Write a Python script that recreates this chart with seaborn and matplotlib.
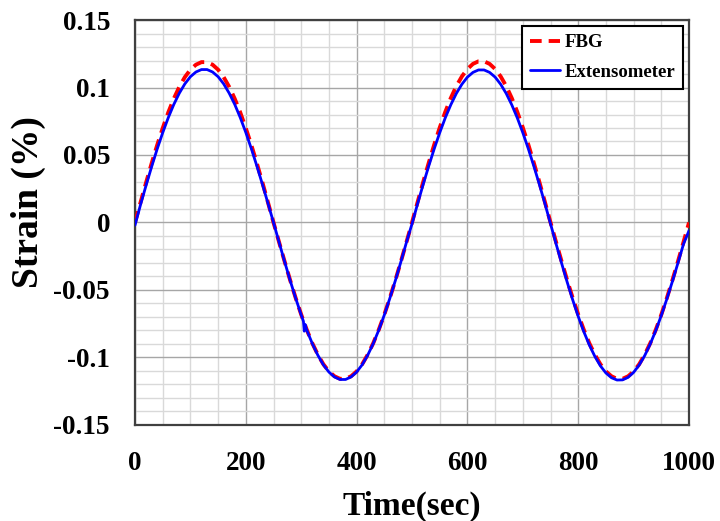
import numpy as np
import pandas as pd
import matplotlib
matplotlib.use("Agg")
import matplotlib.pyplot as plt
import seaborn as sns
from matplotlib.ticker import MultipleLocator

# ---- data (time in sec, strain in %) ----
fbg_time = list(range(0, 1001, 10))
fbg_strain = [
    0.0000, 0.0149, 0.0296, 0.0438, 0.0573, 0.0699, 0.0815, 0.0917, 0.1005, 0.1077,
    0.1132, 0.1169, 0.1188, 0.1188, 0.1169, 0.1132, 0.1077, 0.1005, 0.0917, 0.0815,
    0.0699, 0.0573, 0.0438, 0.0296, 0.0149, 0.0000, -0.0145, -0.0288, -0.0427, -0.0559,
    -0.0682, -0.0794, -0.0894, -0.0979, -0.1050, -0.1103, -0.1139, -0.1158, -0.1158, -0.1139,
    -0.1103, -0.1050, -0.0979, -0.0894, -0.0794, -0.0682, -0.0559, -0.0427, -0.0288, -0.0145,
    0.0000, 0.0150, 0.0298, 0.0440, 0.0576, 0.0703, 0.0819, 0.0922, 0.1010, 0.1082,
    0.1137, 0.1175, 0.1194, 0.1194, 0.1175, 0.1137, 0.1082, 0.1010, 0.0922, 0.0819,
    0.0703, 0.0576, 0.0440, 0.0298, 0.0150, 0.0000, -0.0145, -0.0288, -0.0427, -0.0559,
    -0.0682, -0.0794, -0.0894, -0.0979, -0.1050, -0.1103, -0.1139, -0.1158, -0.1158, -0.1139,
    -0.1103, -0.1050, -0.0979, -0.0894, -0.0794, -0.0682, -0.0559, -0.0427, -0.0288, -0.0145,
    0.0000]

ext_time = [0, 10, 20, 30, 40, 50, 60, 70, 80, 90, 100, 110, 120, 130, 140, 150, 160,
            170, 180, 190, 200, 210, 220, 230, 240, 250, 260, 270, 280, 290, 300, 304,
            305.5, 307, 310, 320, 330, 340, 350, 360, 370, 380, 390, 400, 410, 420, 430,
            440, 450, 460, 470, 480, 490, 500, 510, 520, 530, 540, 550, 560, 570, 580,
            590, 600, 610, 620, 630, 640, 650, 660, 670, 680, 690, 700, 710, 720, 730,
            740, 750, 760, 770, 780, 790, 800, 810, 820, 830, 840, 850, 860, 870, 880,
            890, 900, 910, 920, 930, 940, 950, 960, 970, 980, 990, 1000]
ext_strain = [
    -0.0020, 0.0132, 0.0275, 0.0413, 0.0544, 0.0665, 0.0776, 0.0874, 0.0958, 0.1027,
    0.1080, 0.1115, 0.1133, 0.1133, 0.1115, 0.1080, 0.1027, 0.0958, 0.0875, 0.0777,
    0.0667, 0.0547, 0.0418, 0.0282, 0.0142, 0.0000, -0.0146, -0.0290, -0.0429, -0.0561,
    -0.0685, -0.0732, -0.0805, -0.0755, -0.0797, -0.0897, -0.0983, -0.1054, -0.1108, -0.1144,
    -0.1163, -0.1163, -0.1144, -0.1108, -0.1054, -0.0983, -0.0897, -0.0797, -0.0685, -0.0561,
    -0.0429, -0.0290, -0.0146, -0.0010, 0.0138, 0.0280, 0.0416, 0.0545, 0.0665, 0.0775,
    0.0872, 0.0956, 0.1024, 0.1077, 0.1112, 0.1130, 0.1130, 0.1112, 0.1077, 0.1024,
    0.0956, 0.0872, 0.0775, 0.0665, 0.0545, 0.0416, 0.0280, 0.0138, -0.0010, -0.0158,
    -0.0302, -0.0441, -0.0573, -0.0696, -0.0808, -0.0907, -0.0992, -0.1062, -0.1115, -0.1150,
    -0.1167, -0.1166, -0.1147, -0.1110, -0.1056, -0.0986, -0.0900, -0.0800, -0.0688, -0.0566,
    -0.0436, -0.0300, -0.0160, -0.0060]

x_ticks = [0, 200, 400, 600, 800, 1000]
y_ticks = [-0.15, -0.1, -0.05, 0, 0.05, 0.1, 0.15]
y_tick_labels = ["-0.15", "-0.1", "-0.05", "0", "0.05", "0.1", "0.15"]

fbg_df = pd.DataFrame({"Time": fbg_time, "Strain": fbg_strain})
ext_df = pd.DataFrame({"Time": ext_time, "Strain": ext_strain})

sns.set_style("white")
plt.rcParams["font.family"] = ["Liberation Serif", "DejaVu Serif"]
plt.rcParams["font.weight"] = "bold"
plt.rcParams["text.color"] = "black"
plt.rcParams["axes.labelcolor"] = "black"
plt.rcParams["xtick.color"] = "black"
plt.rcParams["ytick.color"] = "black"

fig = plt.figure(figsize=(7.2, 5.21), dpi=100)
ax = fig.add_axes([0.1875, 0.1843, 0.957 - 0.1875, 0.9616 - 0.1843])

ax.xaxis.set_minor_locator(MultipleLocator(50))
ax.yaxis.set_minor_locator(MultipleLocator(0.01))
ax.grid(which="minor", color="#d9d9d9", linewidth=1.0)
ax.grid(which="major", color="#a6a6a6", linewidth=1.0)
ax.set_axisbelow(True)

sns.lineplot(data=fbg_df, x="Time", y="Strain", ax=ax, color="#ff0000",
             linewidth=2.8, label="FBG", zorder=3)
ax.lines[-1].set_dashes([3.0, 1.8])
sns.lineplot(data=ext_df, x="Time", y="Strain", ax=ax, color="#0000ff",
             linewidth=2.0, label="Extensometer", zorder=4)

ax.set_xlim(0, 1000)
ax.set_ylim(-0.15, 0.15)
ax.set_xticks(x_ticks)
ax.set_xticklabels([str(v) for v in x_ticks])
ax.set_yticks(y_ticks)
ax.set_yticklabels(y_tick_labels)
ax.tick_params(axis="both", which="both", length=0, labelsize=19.5, labelcolor="black")
ax.tick_params(axis="x", pad=19)
ax.tick_params(axis="y", pad=18)
for lab in ax.get_xticklabels() + ax.get_yticklabels():
    lab.set_fontweight("bold")

ax.set_xlabel("Time(sec)", fontsize=24, fontweight="bold", va="center", color="black")
ax.set_ylabel("Strain (%)", fontsize=27, fontweight="bold", va="center", color="black")
ax.xaxis.set_label_coords(0.5, -0.2)
ax.yaxis.set_label_coords(-0.193, 0.55)

for s in ax.spines.values():
    s.set_color("#404040")
    s.set_linewidth(1.6)

leg = ax.legend(loc="upper right", fancybox=False, frameon=True, edgecolor="black",
                framealpha=1, prop={"weight": "bold", "size": 13.5}, handlelength=1.6,
                borderaxespad=0.3, labelspacing=0.65, handletextpad=0.2, borderpad=0.45)
leg.get_frame().set_linewidth(1.5)
for t in leg.get_texts():
    t.set_color("black")

fig.savefig("out.png", dpi=100)
